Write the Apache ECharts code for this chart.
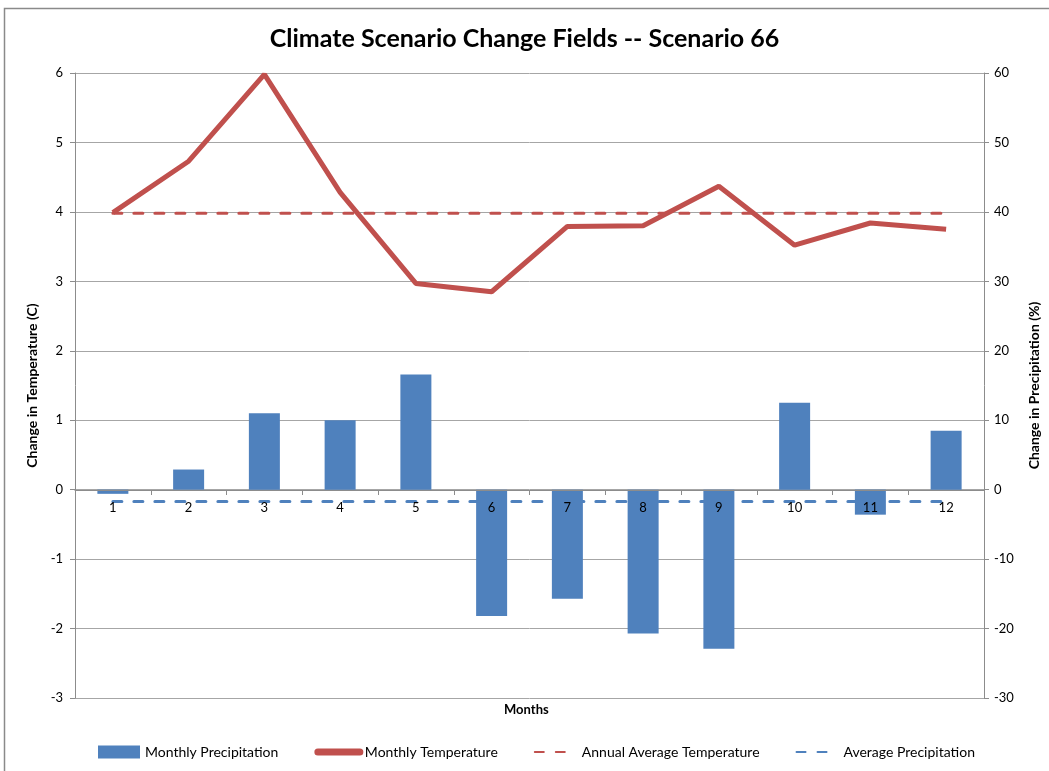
<!DOCTYPE html>
<html>
<head>
<meta charset="utf-8">
<script src="https://cdn.jsdelivr.net/npm/echarts@6/dist/echarts.min.js"></script>
<style>
html,body{margin:0;padding:0;background:#fff;}
#chart{width:1049px;height:771px;}
</style>
</head>
<body>
<div id="chart"></div>
<script>
const months = ['1','2','3','4','5','6','7','8','9','10','11','12'];
const monthlyPrecip = [-0.6, 2.9, 11.0, 10.0, 16.6, -18.2, -15.7, -20.7, -22.9, 12.5, -3.6, 8.5];
const monthlyTemp = [3.99, 4.73, 5.98, 4.28, 2.97, 2.85, 3.79, 3.80, 4.37, 3.52, 3.84, 3.75];
const annualAvgTemp = [3.98, 3.98, 3.98, 3.98, 3.98, 3.98, 3.98, 3.98, 3.98, 3.98, 3.98, 3.98];
const avgPrecip = [-1.7, -1.7, -1.7, -1.7, -1.7, -1.7, -1.7, -1.7, -1.7, -1.7, -1.7, -1.7];

const FONT = 'Lato';
const chart = echarts.init(document.getElementById('chart'));
chart.setOption({
  backgroundColor: '#fff',
  animation: false,
  textStyle: { fontFamily: FONT },
  title: {
    text: 'Climate Scenario Change Fields -- Scenario 66',
    left: 'center', top: 21,
    textStyle: { fontFamily: FONT, fontSize: 25, fontWeight: 'bold', color: '#000' }
  },
  graphic: [
    { type: 'rect', shape: { x: 4.5, y: 8.5, width: 1100, height: 800 },
      style: { fill: 'none', stroke: '#8a8a8a', lineWidth: 1.5 }, silent: true },
    { type: 'text', left: 504, top: 703,
      style: { text: 'Months', font: 'bold 13px ' + FONT, fill: '#000' } }
  ],
  legend: {
    bottom: 7, left: 93,
    itemWidth: 42, itemHeight: 13, itemGap: 36,
    textStyle: { fontFamily: FONT, fontSize: 14, color: '#000' },
    data: [
      { name: 'Monthly Precipitation', icon: 'rect' },
      { name: 'Monthly Temperature', itemStyle: { opacity: 0 }, lineStyle: { width: 7, cap: 'round' } },
      { name: 'Annual Average Temperature', itemStyle: { opacity: 0 } },
      { name: 'Average Precipitation', itemStyle: { opacity: 0 } }
    ]
  },
  grid: { left: 75, right: 64, top: 73, bottom: 73, containLabel: false },
  xAxis: {
    type: 'category', data: months, boundaryGap: true,
    position: 'bottom', offset: -208, z: 10,
    axisLine: { onZero: false, lineStyle: { color: '#8c8c8c', width: 1 } },
    axisTick: { show: true, inside: false, length: 5, lineStyle: { color: '#8c8c8c' } },
    axisLabel: { margin: 11, fontFamily: FONT, fontSize: 13, color: '#000' },
    splitLine: { show: false }
  },
  yAxis: [
    {
      type: 'value', min: -3, max: 6, interval: 1,
      name: 'Change in Temperature (C)', nameLocation: 'middle', nameGap: 35,
      nameTextStyle: { fontFamily: FONT, fontSize: 14, fontWeight: 'bold', color: '#000' },
      axisLine: { show: true, onZero: false, lineStyle: { color: '#8c8c8c' } },
      axisTick: { show: true, length: 5, lineStyle: { color: '#8c8c8c' } },
      axisLabel: { margin: 12, fontFamily: FONT, fontSize: 13, color: '#000' },
      splitLine: { show: true, lineStyle: { color: '#a6a6a6', width: 1 } }
    },
    {
      type: 'value', min: -30, max: 60, interval: 10,
      name: 'Change in Precipitation (%)', nameLocation: 'middle', nameGap: 43,
      nameRotate: 90,
      nameTextStyle: { fontFamily: FONT, fontSize: 14, fontWeight: 'bold', color: '#000' },
      axisLine: { show: true, onZero: false, lineStyle: { color: '#8c8c8c' } },
      axisTick: { show: true, length: 5, lineStyle: { color: '#8c8c8c' } },
      axisLabel: { margin: 10, fontFamily: FONT, fontSize: 13, color: '#000' },
      splitLine: { show: false }
    }
  ],
  series: [
    {
      name: 'Monthly Precipitation', type: 'bar', yAxisIndex: 1,
      data: monthlyPrecip, barWidth: 31,
      itemStyle: { color: '#4F81BD' }
    },
    {
      name: 'Monthly Temperature', type: 'line', yAxisIndex: 0,
      data: monthlyTemp, symbol: 'none',
      lineStyle: { color: '#C0504D', width: 5 }, itemStyle: { color: '#C0504D' }
    },
    {
      name: 'Annual Average Temperature', type: 'line', yAxisIndex: 0,
      data: annualAvgTemp, symbol: 'none',
      lineStyle: { color: '#C0504D', width: 3, type: [9, 12], cap: 'round' },
      itemStyle: { color: '#C0504D' }
    },
    {
      name: 'Average Precipitation', type: 'line', yAxisIndex: 1,
      data: avgPrecip, symbol: 'none',
      lineStyle: { color: '#4F81BD', width: 3, type: [9, 12], cap: 'round' },
      itemStyle: { color: '#4F81BD' }
    }
  ]
});
</script>
</body>
</html>
